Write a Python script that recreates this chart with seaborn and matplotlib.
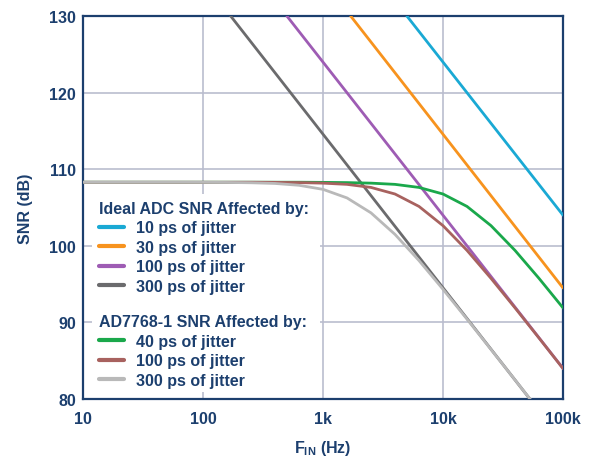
import numpy as np
import pandas as pd
import matplotlib
matplotlib.use("Agg")
import matplotlib.pyplot as plt
import seaborn as sns
from matplotlib.lines import Line2D
from matplotlib.patches import Rectangle

# ideal ADC, jitter limited only (straight lines on log axis)
ideal_labels = ["10 ps of jitter", "30 ps of jitter", "100 ps of jitter", "300 ps of jitter"]
ideal_freq = [[5000, 100000], [1700, 100000], [500, 100000], [170, 53000]]
ideal_snr = [[130, 104], [130, 94.5], [130, 84], [130, 80]]
ideal_colors = ["#1aa9d4", "#f7931e", "#9e5cb4", "#6b6b6d"]

# AD7768-1, noise floor plus jitter
ad_labels = ["40 ps of jitter", "100 ps of jitter", "300 ps of jitter"]
ad_freq = [10, 15.8, 25.1, 39.8, 63.1, 100, 158, 251, 398, 631, 1000, 1585, 2512,
           3981, 6310, 10000, 15849, 25119, 39811, 63096, 100000]
snr_40ps = [108.3, 108.3, 108.3, 108.3, 108.3, 108.3, 108.3, 108.3, 108.3, 108.3, 108.28,
            108.25, 108.18, 108.02, 107.62, 106.76, 105.14, 102.63, 99.4, 95.75, 91.9]
snr_100ps = [108.3, 108.3, 108.3, 108.3, 108.3, 108.3, 108.3, 108.3, 108.28, 108.25, 108.18,
             108.02, 107.62, 106.76, 105.14, 102.63, 99.4, 95.75, 91.9, 87.96, 83.98]
snr_300ps = [108.3, 108.3, 108.3, 108.3, 108.3, 108.29, 108.27, 108.23, 108.14, 107.9, 107.37,
             106.25, 104.3, 101.49, 98.07, 94.32, 90.43, 86.47, 82.49, 78.5, 74.5]
ad_colors = ["#1aa84b", "#a8625f", "#b9b9b9"]

xticks = [10, 100, 1000, 10000, 100000]
xtick_labels = ["10", "100", "1k", "10k", "100k"]
yticks = [80, 90, 100, 110, 120, 130]

navy = "#1c3f6e"
sns.set_theme(style="white")
plt.rcParams["font.family"] = ["Liberation Sans", "DejaVu Sans"]
plt.rcParams["font.weight"] = "bold"
plt.rcParams["mathtext.fontset"] = "custom"
plt.rcParams["mathtext.rm"] = "Liberation Sans:bold"
plt.rcParams["mathtext.default"] = "rm"

fig = plt.figure(figsize=(5.92, 4.6), dpi=100)
ax = fig.add_axes([83 / 592, 60 / 460, 480 / 592, 383 / 460])

lw = 2.0
for f, s, c in zip(ideal_freq, ideal_snr, ideal_colors):
    sns.lineplot(x=f, y=s, ax=ax, color=c, lw=lw, legend=False, zorder=3)

ad_data = pd.DataFrame({"f": ad_freq, "40": snr_40ps, "100": snr_100ps, "300": snr_300ps})
for col, c in zip(["40", "100", "300"], ad_colors):
    sns.lineplot(data=ad_data, x="f", y=col, ax=ax, color=c, lw=lw, legend=False, zorder=4)

ax.set_xscale("log")
ax.set_xlim(10, 100000)
ax.set_ylim(80, 130)
ax.set_xticks(xticks)
ax.set_xticklabels(xtick_labels)
ax.minorticks_off()
ax.set_yticks(yticks)
ax.tick_params(axis="both", length=0, labelsize=11.5, labelcolor=navy)
ax.tick_params(axis="x", pad=9)
ax.tick_params(axis="y", pad=5)
ax.grid(True, color="#babdce", lw=1.2)
ax.set_axisbelow(True)
for sp in ax.spines.values():
    sp.set_color(navy)
    sp.set_linewidth(1.6)

ax.set_xlabel("F$_{IN}$ (Hz)", fontsize=11.5, color=navy, fontweight="bold", labelpad=8)
ax.set_ylabel("SNR (dB)", fontsize=11.5, color=navy, fontweight="bold", labelpad=12)

# white panel behind the legend
ax.add_patch(Rectangle((0.019, 0.018), 0.475, 0.517, transform=ax.transAxes,
                       facecolor="white", edgecolor="none", zorder=1))

def make_legend(labels, colors, title, y):
    handles = [Line2D([], [], color=c, lw=3) for c in colors]
    leg = ax.legend(handles, labels, title=title, alignment="left", loc="upper left",
                    bbox_to_anchor=(0.033, y), frameon=False, borderpad=0, borderaxespad=0,
                    fontsize=11.5, labelcolor=navy, handlelength=1.6, handletextpad=0.75,
                    labelspacing=0.28, title_fontproperties={"weight": "bold", "size": 11.5})
    leg.get_title().set_color(navy)
    leg.set_zorder(6)
    return leg

leg1 = make_legend(ideal_labels, ideal_colors, "Ideal ADC SNR Affected by:", 0.517)
ax.add_artist(leg1)
make_legend(ad_labels, ad_colors, "AD7768-1 SNR Affected by:", 0.221)

fig.savefig("out.png", dpi=100)
